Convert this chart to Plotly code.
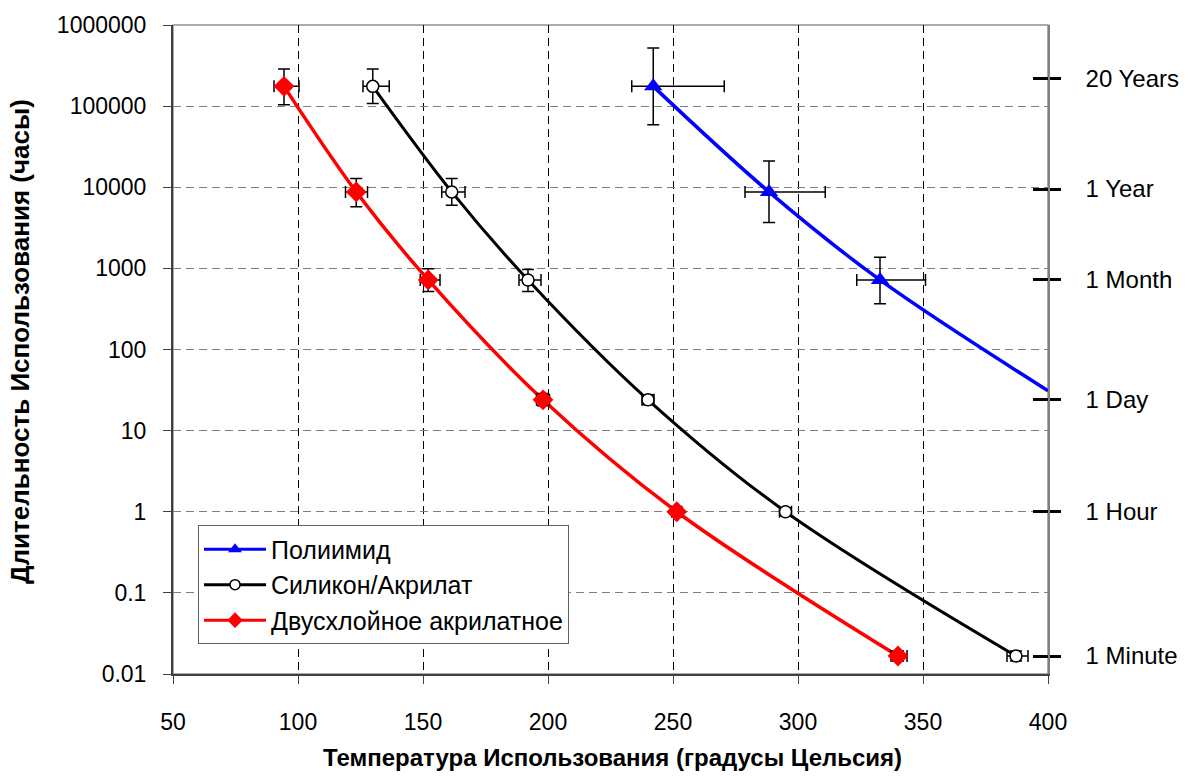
import plotly.graph_objects as go

# ---------------- data ----------------
x_ticks = [50, 100, 150, 200, 250, 300, 350, 400]
y_ticks = [0.01, 0.1, 1, 10, 100, 1000, 10000, 100000, 1000000]
y_tick_labels = ["0.01", "0.1", "1", "10", "100", "1000", "10000", "100000", "1000000"]

time_ticks = [220000, 9500, 720, 24, 1, 1 / 60]
time_labels = ["20 Years", "1 Year", "1 Month", "1 Day", "1 Hour", "1 Minute"]

# Полиимид
pi_temp = [242.1, 288.4, 332.8]
pi_hours = [175200, 8760, 720]
pi_temp_lo = [233.5, 278.8, 323.5]
pi_temp_hi = [270.5, 310.9, 351.0]
pi_hours_lo = [58900, 3680, 366]
pi_hours_hi = [520000, 21100, 1370]
pi_curve_temp = [242.1, 288.4, 332.8, 400]
pi_curve_hours = [175200, 8760, 720, 31]

# Силикон/Акрилат
sa_temp = [129.9, 161.5, 192.0, 240.0, 295.0, 387.2]
sa_hours = [175200, 8760, 720, 24, 1, 1 / 60]
sa_temp_lo = [126.0, 157.5, 188.4, 237.6, 292.6, 383.6]
sa_temp_hi = [136.5, 166.8, 197.2, 242.4, 297.4, 392.0]
sa_hours_lo = [108000, 6000, 519, 20.9, 0.89, 0.0145]
sa_hours_hi = [287000, 12800, 970, 27.6, 1.12, 0.0192]

# Двусхлойное акрилатное
dc_temp = [94.4, 123.3, 152.1, 198.0, 251.5, 340.0]
dc_hours = [175200, 8760, 720, 24, 1, 1 / 60]
dc_temp_lo = [90.4, 119.0, 148.9, 195.4, 249.5, 337.2]
dc_temp_hi = [100.4, 127.8, 156.8, 200.6, 253.5, 343.6]
dc_hours_lo = [104000, 5740, 519, 20.2, 0.92, 0.0145]
dc_hours_hi = [287000, 12800, 986, 28.6, 1.08, 0.0192]

names = ["Полиимид", "Силикон/Акрилат", "Двусхлойное акрилатное"]

FONT = "Liberation Sans, Arial, sans-serif"

fig = go.Figure()


def add_series(curve_x, curve_y, tx, hy, tlo, thi, hlo, hhi, color, lw, marker):
    fig.add_trace(go.Scatter(
        x=curve_x, y=curve_y, mode="lines",
        line=dict(color=color, width=lw, shape="spline", smoothing=1.0),
        showlegend=False, hoverinfo="skip"))
    fig.add_trace(go.Scatter(
        x=tx, y=hy, mode="markers", marker=marker, showlegend=False,
        error_x=dict(type="data", symmetric=False,
                     array=[h - t for h, t in zip(thi, tx)],
                     arrayminus=[t - l for t, l in zip(tx, tlo)],
                     color="black", thickness=1.5, width=6),
        error_y=dict(type="data", symmetric=False,
                     array=[h - v for h, v in zip(hhi, hy)],
                     arrayminus=[v - l for v, l in zip(hy, hlo)],
                     color="black", thickness=1.5, width=6)))


blue_marker = dict(symbol="triangle-up", size=16, color="#0000FF")
black_marker = dict(symbol="circle", size=12, color="white", line=dict(color="black", width=1.5))
red_marker = dict(symbol="diamond", size=16, color="#FF0000")

add_series(pi_curve_temp, pi_curve_hours, pi_temp, pi_hours,
           pi_temp_lo, pi_temp_hi, pi_hours_lo, pi_hours_hi, "#0000FF", 3.5, blue_marker)
add_series(sa_temp, sa_hours, sa_temp, sa_hours,
           sa_temp_lo, sa_temp_hi, sa_hours_lo, sa_hours_hi, "#000000", 3, black_marker)
add_series(dc_temp, dc_hours, dc_temp, dc_hours,
           dc_temp_lo, dc_temp_hi, dc_hours_lo, dc_hours_hi, "#FF0000", 3.5, red_marker)

# legend-only entries
for nm, col, mk in [(names[0], "#0000FF", dict(symbol="triangle-up", size=12, color="#0000FF")),
                    (names[1], "#000000", dict(symbol="circle", size=10, color="white", line=dict(color="black", width=1.5))),
                    (names[2], "#FF0000", dict(symbol="diamond", size=12, color="#FF0000"))]:
    fig.add_trace(go.Scatter(x=[None], y=[None], mode="lines+markers", name=nm,
                             line=dict(color=col, width=3), marker=mk))

# dummy traces for right axes
fig.add_trace(go.Scatter(x=[None], y=[None], yaxis="y2", showlegend=False))
fig.add_trace(go.Scatter(x=[None], y=[None], yaxis="y3", showlegend=False))

fig.update_layout(
    width=1194, height=777,
    margin=dict(l=173, r=146, t=23, b=103),
    paper_bgcolor="white", plot_bgcolor="white",
    font=dict(family=FONT, color="black", size=23),
    xaxis=dict(range=[50, 400], tickvals=x_ticks, showgrid=True,
               gridcolor="black", griddash="8px,5px", gridwidth=1,
               showline=True, linecolor="#404040", linewidth=2,
               ticks="outside", ticklen=8, tickcolor="#404040",
               tickfont=dict(size=23), ticklabelstandoff=18, zeroline=False),
    yaxis=dict(type="log", range=[-2, 6], tickvals=y_ticks, ticktext=y_tick_labels,
               showgrid=True, gridcolor="#808080", griddash="8px,5px", gridwidth=1,
               showline=True, linecolor="#404040", linewidth=2,
               ticks="outside", ticklen=8, tickcolor="#404040",
               tickfont=dict(size=23), ticklabelstandoff=12, zeroline=False),
    yaxis2=dict(type="log", range=[-2, 6], overlaying="y", side="right",
                tickvals=time_ticks, ticktext=time_labels,
                ticks="outside", ticklen=11, tickwidth=2.5, tickcolor="black",
                showline=True, linecolor="#808080", linewidth=1.5,
                showgrid=False, zeroline=False,
                tickfont=dict(size=24), ticklabelstandoff=20),
    yaxis3=dict(type="log", range=[-2, 6], overlaying="y", side="right",
                tickvals=time_ticks, ticks="inside", ticklen=15, tickwidth=2.5,
                tickcolor="black", showticklabels=False, showgrid=False,
                showline=False, zeroline=False),
    legend=dict(x=0.0286, y=0.229, xanchor="left", yanchor="top",
                bgcolor="white", bordercolor="#606060", borderwidth=1,
                font=dict(size=25, family=FONT), itemwidth=62),
    shapes=[dict(type="rect", xref="x domain", yref="y domain", x0=0, x1=1, y0=0, y1=1,
                 line=dict(color="#909090", width=1.5), layer="below")],
    annotations=[
        dict(text="<b>Температура Использования (градусы Цельсия)</b>", xref="paper", yref="paper",
             x=0.502, y=-0.129, xanchor="center", yanchor="middle", showarrow=False,
             font=dict(size=24, family=FONT)),
        dict(text="<b>Длительность Использования (часы)</b>", xref="paper", yref="paper",
             x=-0.175, y=0.513, xanchor="center", yanchor="middle", showarrow=False,
             textangle=-90, font=dict(size=26, family=FONT)),
    ],
)

fig.write_html("out.html")
